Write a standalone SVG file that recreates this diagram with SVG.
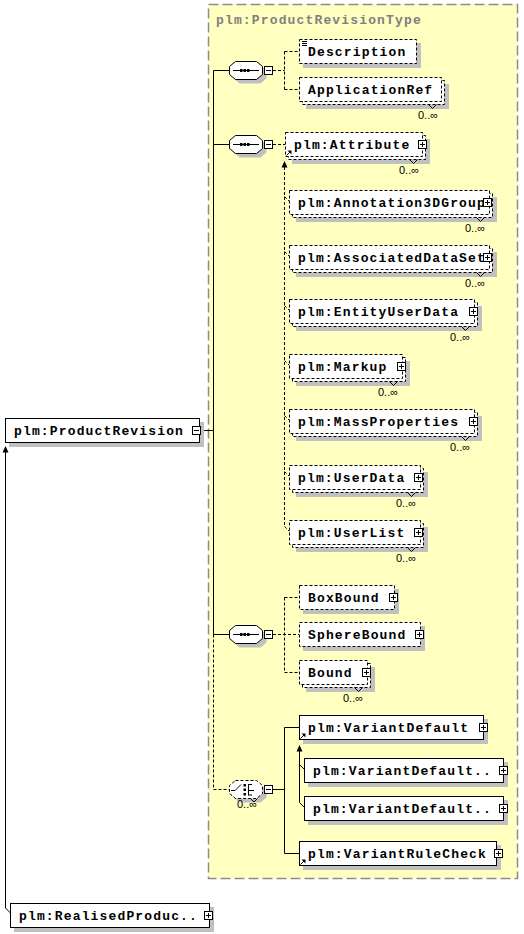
<svg xmlns="http://www.w3.org/2000/svg" xmlns:xlink="http://www.w3.org/1999/xlink" width="524" height="934" viewBox="0 0 524 934">
<style>
.t{font-family:"Liberation Mono","DejaVu Sans Mono",monospace;font-weight:bold;font-size:13px;letter-spacing:1.15px;fill:#000}
.tt{font-family:"Liberation Mono","DejaVu Sans Mono",monospace;font-weight:bold;font-size:13px;letter-spacing:1.15px;fill:#808080}
.m{font-family:"Liberation Sans",Arial,sans-serif;font-size:11px;fill:#000;text-anchor:middle}
.sh{fill:#c0c0c0;stroke:none}
.bs{fill:#fff;stroke:#000;stroke-width:1}
.bd{fill:#fff;stroke:#000;stroke-width:1;stroke-dasharray:3,2}
.ln{fill:none;stroke:#000;stroke-width:1}
.dl{fill:none;stroke:#000;stroke-width:1;stroke-dasharray:3,2}
.ah{fill:#000;stroke:none}
</style>
<defs>
<g id="plus"><rect x="0.5" y="0.5" width="8" height="8" fill="#fff" stroke="#000"/><path d="M2 4.5h5M4.5 2v5" stroke="#000"/></g>
<g id="minus"><rect x="0.5" y="0.5" width="8" height="8" fill="#fff" stroke="#000"/><path d="M2 4.5h5" stroke="#000"/></g>
<path id="oct" d="M6.5 0.5H27.5L33.5 5.5V13.5L27.5 18.5H6.5L0.5 13.5V5.5Z"/>
<g id="seqicon"><path d="M4 9.5H30" stroke="#000"/><rect x="11" y="8" width="2.5" height="3" fill="#000"/><rect x="14.5" y="8" width="2.5" height="3" fill="#000"/><rect x="18" y="8" width="2.5" height="3" fill="#000"/></g>
<g id="ref"><path d="M0.5 5.5L4 2" stroke="#000"/><path d="M1.5 0.5H5.5V4.5Z" fill="#000"/></g>
</defs>

<g id="type-box">
<rect x="208.5" y="4.5" width="309" height="874" fill="#ffffc0" stroke="#8c8c8c" stroke-width="1.5" stroke-dasharray="10,4"/>
<text class="tt" x="216" y="24">plm:ProductRevisionType</text>
</g>

<g id="connectors">
<path class="ln" d="M201 430.5H213.5M213.5 70.5V634.5M213.5 70.5H229M213.5 144.5H229M213.5 634.5H229"/>
<path class="dl" d="M213.5 634.5V789.5H229"/>
<path class="dl" d="M273 70.5H284.5M284.5 51.5V89.5M284.5 51.5H299M284.5 89.5H299"/>
<path class="dl" d="M273 144.5H285"/>
<path class="dl" d="M284.5 167V526.5M284.5 196.5L289.5 201.5M284.5 251.5L289.5 256.5M284.5 305.5L289.5 310.5M284.5 360.5L289.5 365.5M284.5 415.5L289.5 420.5M284.5 471.5L289.5 476.5M284.5 526.5L289.5 531.5"/>
<path class="ah" d="M284.5 161L287.5 167.5H281.5Z"/>
<path class="dl" d="M273 634.5H299M284.5 597.5V672.5M284.5 597.5H299M284.5 672.5H299"/>
<path class="ln" d="M273 789.5H284.5M284.5 727.5V853.5M284.5 727.5H299M284.5 853.5H299"/>
<path class="ln" d="M299.5 751V802.5M299.5 764.5L304.5 769.5M299.5 802.5L304.5 807.5"/>
<path class="ah" d="M299.5 745L302.5 751.5H296.5Z"/>
<path class="ln" d="M5.5 452V908L10.5 913"/>
<path class="ah" d="M5.5 446L8.5 452.5H2.5Z"/>
</g>

<g id="n-productrevision">
<rect class="sh" x="9" y="422" width="195" height="25"/>
<rect class="bs" x="5.5" y="418.5" width="194" height="24"/>
<text class="t" x="14" y="434.5">plm:ProductRevision</text>
<use xlink:href="#minus" x="192" y="426"/>
</g>

<g id="n-seq1">
<use xlink:href="#oct" class="sh" transform="translate(233,65)"/>
<use xlink:href="#oct" class="bs" transform="translate(229,61)"/>
<use xlink:href="#seqicon" transform="translate(229,61)"/>
<use xlink:href="#minus" x="264" y="66"/>
</g>

<g id="n-description">
<rect class="sh" x="303" y="43" width="118" height="25"/>
<rect class="bd" x="299.5" y="39.5" width="117" height="24"/>
<path class="ln" d="M302 41.5H307M302 43.5H307M302 45.5H307"/>
<text class="t" x="308" y="55.5">Description</text>
</g>

<g id="n-applicationref">
<rect class="sh" x="306" y="84" width="143" height="25"/>
<rect class="bd" x="302.5" y="80.5" width="142" height="24"/>
<rect class="bd" x="299.5" y="77.5" width="142" height="24"/>
<path class="ln" d="M428.5 104.5L432.5 108.5L436.5 104.5"/>
<text class="t" x="308" y="93.5">ApplicationRef</text>
<text class="m" x="428" y="119">0..∞</text>
</g>

<g id="n-seq2">
<use xlink:href="#oct" class="sh" transform="translate(233,139)"/>
<use xlink:href="#oct" class="bs" transform="translate(229,135)"/>
<use xlink:href="#seqicon" transform="translate(229,135)"/>
<use xlink:href="#minus" x="264" y="140"/>
</g>

<g id="n-attribute">
<rect class="sh" x="292" y="139" width="138" height="25"/>
<rect class="bd" x="288.5" y="135.5" width="137" height="24"/>
<rect class="bd" x="285.5" y="132.5" width="137" height="24"/>
<path class="ln" d="M409.5 159.5L413.5 163.5L417.5 159.5"/>
<text class="t" x="294" y="148.5">plm:Attribute</text>
<use xlink:href="#plus" x="418" y="140"/>
<use xlink:href="#ref" x="286" y="150"/>
<text class="m" x="409" y="174">0..∞</text>
</g>

<g id="n-annotation3dgroup">
<rect class="sh" x="296" y="197" width="201" height="25"/>
<rect class="bd" x="292.5" y="193.5" width="200" height="24"/>
<rect class="bd" x="289.5" y="190.5" width="200" height="24"/>
<path class="ln" d="M476.5 217.5L480.5 221.5L484.5 217.5"/>
<text class="t" x="298" y="206.5">plm:Annotation3DGroup</text>
<use xlink:href="#plus" x="483" y="198"/>
<text class="m" x="475" y="232">0..∞</text>
</g>

<g id="n-associateddataset">
<rect class="sh" x="296" y="252" width="201" height="25"/>
<rect class="bd" x="292.5" y="248.5" width="200" height="24"/>
<rect class="bd" x="289.5" y="245.5" width="200" height="24"/>
<path class="ln" d="M476.5 272.5L480.5 276.5L484.5 272.5"/>
<text class="t" x="298" y="261.5">plm:AssociatedDataSet</text>
<use xlink:href="#plus" x="483" y="253"/>
<text class="m" x="475" y="287">0..∞</text>
</g>

<g id="n-entityuserdata">
<rect class="sh" x="296" y="306" width="186" height="25"/>
<rect class="bd" x="292.5" y="302.5" width="185" height="24"/>
<rect class="bd" x="289.5" y="299.5" width="185" height="24"/>
<path class="ln" d="M461.5 326.5L465.5 330.5L469.5 326.5"/>
<text class="t" x="298" y="315.5">plm:EntityUserData</text>
<use xlink:href="#plus" x="469" y="307"/>
<text class="m" x="460" y="341">0..∞</text>
</g>

<g id="n-markup">
<rect class="sh" x="296" y="361" width="114" height="25"/>
<rect class="bd" x="292.5" y="357.5" width="113" height="24"/>
<rect class="bd" x="289.5" y="354.5" width="113" height="24"/>
<path class="ln" d="M389.5 381.5L393.5 385.5L397.5 381.5"/>
<text class="t" x="298" y="370.5">plm:Markup</text>
<use xlink:href="#plus" x="397" y="362"/>
<text class="m" x="388" y="396">0..∞</text>
</g>

<g id="n-massproperties">
<rect class="sh" x="296" y="416" width="186" height="25"/>
<rect class="bd" x="292.5" y="412.5" width="185" height="24"/>
<rect class="bd" x="289.5" y="409.5" width="185" height="24"/>
<path class="ln" d="M461.5 436.5L465.5 440.5L469.5 436.5"/>
<text class="t" x="298" y="425.5">plm:MassProperties</text>
<use xlink:href="#plus" x="469" y="417"/>
<text class="m" x="460" y="451">0..∞</text>
</g>

<g id="n-userdata">
<rect class="sh" x="296" y="472" width="132" height="25"/>
<rect class="bd" x="292.5" y="468.5" width="131" height="24"/>
<rect class="bd" x="289.5" y="465.5" width="131" height="24"/>
<path class="ln" d="M407.5 492.5L411.5 496.5L415.5 492.5"/>
<text class="t" x="298" y="481.5">plm:UserData</text>
<use xlink:href="#plus" x="414" y="473"/>
<text class="m" x="406" y="507">0..∞</text>
</g>

<g id="n-userlist">
<rect class="sh" x="296" y="527" width="132" height="25"/>
<rect class="bd" x="292.5" y="523.5" width="131" height="24"/>
<rect class="bd" x="289.5" y="520.5" width="131" height="24"/>
<path class="ln" d="M407.5 547.5L411.5 551.5L415.5 547.5"/>
<text class="t" x="298" y="536.5">plm:UserList</text>
<use xlink:href="#plus" x="414" y="528"/>
<text class="m" x="406" y="562">0..∞</text>
</g>

<g id="n-seq3">
<use xlink:href="#oct" class="sh" transform="translate(233,629)"/>
<use xlink:href="#oct" class="bs" transform="translate(229,625)"/>
<use xlink:href="#seqicon" transform="translate(229,625)"/>
<use xlink:href="#minus" x="264" y="630"/>
</g>

<g id="n-boxbound">
<rect class="sh" x="303" y="589" width="96" height="25"/>
<rect class="bd" x="299.5" y="585.5" width="95" height="24"/>
<text class="t" x="308" y="601.5">BoxBound</text>
<use xlink:href="#plus" x="389" y="593"/>
</g>

<g id="n-spherebound">
<rect class="sh" x="303" y="626" width="122" height="25"/>
<rect class="bd" x="299.5" y="622.5" width="121" height="24"/>
<text class="t" x="308" y="638.5">SphereBound</text>
<use xlink:href="#plus" x="415" y="630"/>
</g>

<g id="n-bound">
<rect class="sh" x="306" y="667" width="69" height="25"/>
<rect class="bd" x="302.5" y="663.5" width="68" height="24"/>
<rect class="bd" x="299.5" y="660.5" width="68" height="24"/>
<path class="ln" d="M354.5 687.5L358.5 691.5L362.5 687.5"/>
<text class="t" x="308" y="676.5">Bound</text>
<use xlink:href="#plus" x="362" y="668"/>
<text class="m" x="353" y="702">0..∞</text>
</g>

<g id="n-choice">
<use xlink:href="#oct" class="sh" transform="translate(233,784)"/>
<use xlink:href="#oct" class="bd" transform="translate(229,780)"/>
<g transform="translate(229,780)">
<path class="ln" d="M2 10.5H6L12 4.5"/>
<rect x="14.5" y="4" width="2.5" height="2.5" fill="#000"/>
<rect x="14.5" y="8.5" width="2.5" height="2.5" fill="#000"/>
<rect x="14.5" y="13" width="2.5" height="2.5" fill="#000"/>
<path class="ln" d="M19.5 4V15.5M19.5 4.5H23M19.5 10.5H25M19.5 15H23"/>
<path class="ln" d="M21.5 18.5L25 22L28.5 18.5"/>
</g>
<use xlink:href="#minus" x="264" y="785"/>
<text class="m" x="247" y="808">0..∞</text>
</g>

<g id="n-variantdefault">
<rect class="sh" x="303" y="719" width="185" height="25"/>
<rect class="bs" x="299.5" y="715.5" width="184" height="24"/>
<text class="t" x="308" y="731.5">plm:VariantDefault</text>
<use xlink:href="#plus" x="479" y="723"/>
<use xlink:href="#ref" x="300" y="733"/>
</g>

<g id="n-variantdefault-1">
<rect class="sh" x="308" y="762" width="200" height="25"/>
<rect class="bs" x="304.5" y="758.5" width="199" height="24"/>
<text class="t" x="313" y="774.5">plm:VariantDefault..</text>
<use xlink:href="#plus" x="499" y="766"/>
</g>

<g id="n-variantdefault-2">
<rect class="sh" x="308" y="800" width="200" height="25"/>
<rect class="bs" x="304.5" y="796.5" width="199" height="24"/>
<text class="t" x="313" y="812.5">plm:VariantDefault..</text>
<use xlink:href="#plus" x="499" y="804"/>
</g>

<g id="n-variantrulecheck">
<rect class="sh" x="303" y="845" width="198" height="25"/>
<rect class="bs" x="299.5" y="841.5" width="197" height="24"/>
<text class="t" x="308" y="857.5">plm:VariantRuleCheck</text>
<use xlink:href="#plus" x="494" y="849"/>
<use xlink:href="#ref" x="300" y="859"/>
</g>

<g id="n-realisedproduct">
<rect class="sh" x="14" y="907" width="200" height="25"/>
<rect class="bs" x="10.5" y="903.5" width="199" height="24"/>
<text class="t" x="19" y="919.5">plm:RealisedProduc..</text>
<use xlink:href="#plus" x="204" y="911"/>
</g>
</svg>
